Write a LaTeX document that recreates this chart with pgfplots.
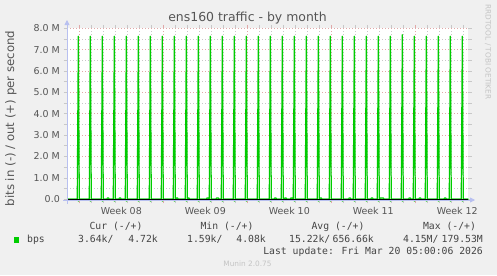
\documentclass[border=0pt]{standalone}
\usepackage{pgfplots}
\pgfplotsset{compat=1.18}
\usepackage{fontspec}
\setmainfont{DejaVu Sans}
\newfontfamily\monofont{DejaVu Sans Mono}
\usetikzlibrary{arrows.meta}
\definecolor{bg}{HTML}{F0F0F0}
\definecolor{mgreen}{HTML}{00CC00}
\definecolor{majgrid}{HTML}{E0A8A8}
\definecolor{mingrid}{HTML}{C8C8C8}
\definecolor{axiscol}{HTML}{B8C0F0}
\definecolor{txt}{HTML}{555555}
\definecolor{legtxt}{HTML}{444444}
\definecolor{wm}{HTML}{C4C4C4}
\begin{document}
\begin{tikzpicture}[x=1bp,y=1bp]
\fill[bg] (0,0) rectangle (497,275);
\useasboundingbox (0,0) rectangle (497,275);
\begin{axis}[
  at={(67bp,74.95bp)}, anchor=south west,
  scale only axis, width=401.3bp, height=171.75bp,
  xmin=-1.025, xmax=32.42, ymin=-0.035, ymax=8,
  clip=false,
  axis line style={draw=none},
  axis background/.style={fill=white},
  xtick={0,7,14,21,28}, xticklabels={,,,,},
  minor xtick={-1,1,2,3,4,5,6,8,9,10,11,12,13,15,16,17,18,19,20,22,23,24,25,26,27,29,30,31,32},
  ytick={0,1,2,3,4,5,6,7,8},
  yticklabels={0.0,1.0 M,2.0 M,3.0 M,4.0 M,5.0 M,6.0 M,7.0 M,8.0 M},
  minor ytick={0.5,1.5,2.5,3.5,4.5,5.5,6.5,7.5},
  xmajorgrids, xminorgrids, ymajorgrids, yminorgrids,
  major grid style={majgrid, dash pattern=on 1bp off 2bp, line width=0.8bp},
  minor grid style={mingrid, dash pattern=on 1bp off 2bp, line width=0.8bp},
  tick align=outside, major tick length=3.3bp, minor tick length=3.3bp,
  major tick style={majgrid, solid, line width=0.8bp},
  minor tick style={mingrid, solid, line width=0.8bp},
  ytick style={mingrid, solid, line width=0.8bp},
  ticklabel style={font=\fontsize{9.5}{11}\selectfont, text=txt},
  yticklabel style={anchor=east, inner sep=0pt},
  yticklabel shift=3.7bp,
  extra x ticks={3.5,10.5,17.5,24.5,31.5},
  extra x tick labels={Week 08,Week 09,Week 10,Week 11,Week 12},
  extra x tick style={grid=none, major tick length=0pt,
     xticklabel style={anchor=north, inner sep=0pt}, xticklabel shift=7bp},
]
\addplot[mgreen, line width=1.2bp, line join=round] coordinates {
(-1.02,0)
(-0.17,0)(-0.08,7.63)(0,0)
(0.83,0)(0.92,7.63)(1,0)
(1.83,0)(1.92,7.63)(2,0)
(2.3,0)(2.33,0.06)(2.45,0.06)(2.48,0)
(2.83,0)(2.92,7.63)(3,0)
(3.3,0)(3.33,0.06)(3.45,0.06)(3.48,0)
(3.83,0)(3.92,7.63)(4,0)
(4.83,0)(4.92,7.63)(5,0)
(5.83,0)(5.92,7.63)(6,0)
(6.83,0)(6.92,7.63)(7,0)
(7.83,0)(7.92,7.63)(8,0)
(8.05,0)(8.08,0.06)(8.2,0.06)(8.23,0)
(8.83,0)(8.92,7.63)(9,0)
(9.03,0)(9.05,0.06)(9.15,0.06)(9.18,0)
(9.83,0)(9.92,7.63)(10,0)
(10.6,0)(10.63,0.06)(10.75,0.06)(10.78,0)
(10.83,0)(10.92,7.63)(11,0)
(11.4,0)(11.43,0.06)(11.6,0.06)(11.63,0)
(11.83,0)(11.92,7.63)(12,0)
(12.83,0)(12.92,7.63)(13,0)
(13.83,0)(13.92,7.63)(14,0)
(14.83,0)(14.92,7.63)(15,0)
(15.83,0)(15.92,7.63)(16,0)
(16.25,0)(16.28,0.06)(16.4,0.06)(16.43,0)
(16.83,0)(16.92,7.63)(17,0)
(17.1,0)(17.13,0.06)(17.25,0.06)(17.28,0)
(17.6,0)(17.63,0.06)(17.75,0.06)(17.78,0)
(17.83,0)(17.92,7.63)(18,0)
(18.83,0)(18.92,7.63)(19,0)
(19.83,0)(19.92,7.63)(20,0)
(20.03,0)(20.06,0.06)(20.18,0.06)(20.21,0)
(20.83,0)(20.92,7.63)(21,0)
(21.83,0)(21.92,7.63)(22,0)
(22.45,0)(22.48,0.06)(22.6,0.06)(22.63,0)
(22.83,0)(22.92,7.63)(23,0)
(23.83,0)(23.92,7.63)(24,0)
(24.3,0)(24.33,0.06)(24.45,0.06)(24.48,0)
(24.83,0)(24.92,7.63)(25,0)
(25.03,0)(25.06,0.06)(25.35,0.06)(25.38,0)
(25.83,0)(25.92,7.63)(26,0)
(26.83,0)(26.92,7.70)(27,0)
(27.45,0)(27.48,0.06)(27.6,0.06)(27.63,0)
(27.83,0)(27.92,7.63)(28,0)
(28.3,0)(28.33,0.06)(28.45,0.06)(28.48,0)
(28.83,0)(28.92,7.63)(29,0)
(29.83,0)(29.92,7.63)(30,0)
(30.4,0)(30.43,0.06)(30.55,0.06)(30.58,0)
(30.83,0)(30.92,7.63)(31,0)
(31.83,0)(31.92,7.63)(32,0)
(32.42,0)
};
\addplot[mgreen, line width=1.2bp, line join=round] coordinates {
(-1.02,0)
(-0.17,0)(-0.08,-0.08)(0,0)
(0.83,0)(0.92,-0.08)(1,0)
(1.83,0)(1.92,-0.08)(2,0)
(2.83,0)(2.92,-0.08)(3,0)
(3.83,0)(3.92,-0.08)(4,0)
(4.83,0)(4.92,-0.08)(5,0)
(5.83,0)(5.92,-0.08)(6,0)
(6.83,0)(6.92,-0.08)(7,0)
(7.83,0)(7.92,-0.08)(8,0)
(8.83,0)(8.92,-0.08)(9,0)
(9.83,0)(9.92,-0.08)(10,0)
(10.83,0)(10.92,-0.08)(11,0)
(11.83,0)(11.92,-0.08)(12,0)
(12.83,0)(12.92,-0.08)(13,0)
(13.83,0)(13.92,-0.08)(14,0)
(14.83,0)(14.92,-0.08)(15,0)
(15.83,0)(15.92,-0.08)(16,0)
(16.83,0)(16.92,-0.08)(17,0)
(17.83,0)(17.92,-0.08)(18,0)
(18.83,0)(18.92,-0.08)(19,0)
(19.83,0)(19.92,-0.08)(20,0)
(20.83,0)(20.92,-0.08)(21,0)
(21.83,0)(21.92,-0.08)(22,0)
(22.83,0)(22.92,-0.08)(23,0)
(23.83,0)(23.92,-0.08)(24,0)
(24.83,0)(24.92,-0.08)(25,0)
(25.83,0)(25.92,-0.08)(26,0)
(26.83,0)(26.92,-0.08)(27,0)
(27.83,0)(27.92,-0.08)(28,0)
(28.83,0)(28.92,-0.08)(29,0)
(29.83,0)(29.92,-0.08)(30,0)
(30.83,0)(30.92,-0.08)(31,0)
(31.83,0)(31.92,-0.08)(32,0)
(32.42,0)
};
\addplot[black, line width=1bp] coordinates {(-1.025,0) (32.42,0)};
\end{axis}
% axis lines with arrows
\draw[axiscol, line width=0.8bp, -{Triangle[length=5bp,width=5bp]}] (67,71.5) -- (67,255);
\draw[axiscol, line width=0.8bp, -{Triangle[length=5bp,width=5bp]}] (63,75) -- (475,75);
% texts
\node[text=txt, font=\fontsize{12.5}{14}\selectfont] at (247.5,257) {ens160 traffic - by month};
\node[text=txt, rotate=90, font=\fontsize{11.8}{13}\selectfont] at (11,156.5) {bits in (-) / out (+) per second};
\node[text=wm, rotate=-90, font=\fontsize{7.4}{9}\selectfont] at (488,223) {RRDTOOL / TOBI OETIKER};
\begin{scope}[every node/.style={text=legtxt, inner sep=0pt, font=\monofont\fontsize{9.8}{11}\selectfont, text height=0.75em, text depth=0.2em}]
\node at (116,48.3) {Cur (-/+)};
\node at (227,48.3) {Min (-/+)};
\node at (338,48.3) {Avg (-/+)};
\node at (449.5,48.3) {Max (-/+)};
\node[anchor=west] at (27,35) {bps};
\node[anchor=west] at (78,35) {3.64k/};
\node[anchor=east] at (158,35) {4.72k};
\node[anchor=west] at (187,35) {1.59k/};
\node[anchor=east] at (266,35) {4.08k};
\node[anchor=west] at (289,35) {15.22k/};
\node[anchor=east] at (374,35) {656.66k};
\node[anchor=west] at (403,35) {4.15M/};
\node[anchor=east] at (483,35) {179.53M};
\node[anchor=east] at (483,23) {Last update: Fri Mar 20 05:00:06 2026};
\end{scope}
\fill[mgreen] (14,32.3) rectangle (19.3,37.7);
\node[text=wm, font=\fontsize{7.4}{9}\selectfont] at (247.5,11) {Munin 2.0.75};
\end{tikzpicture}
\end{document}
